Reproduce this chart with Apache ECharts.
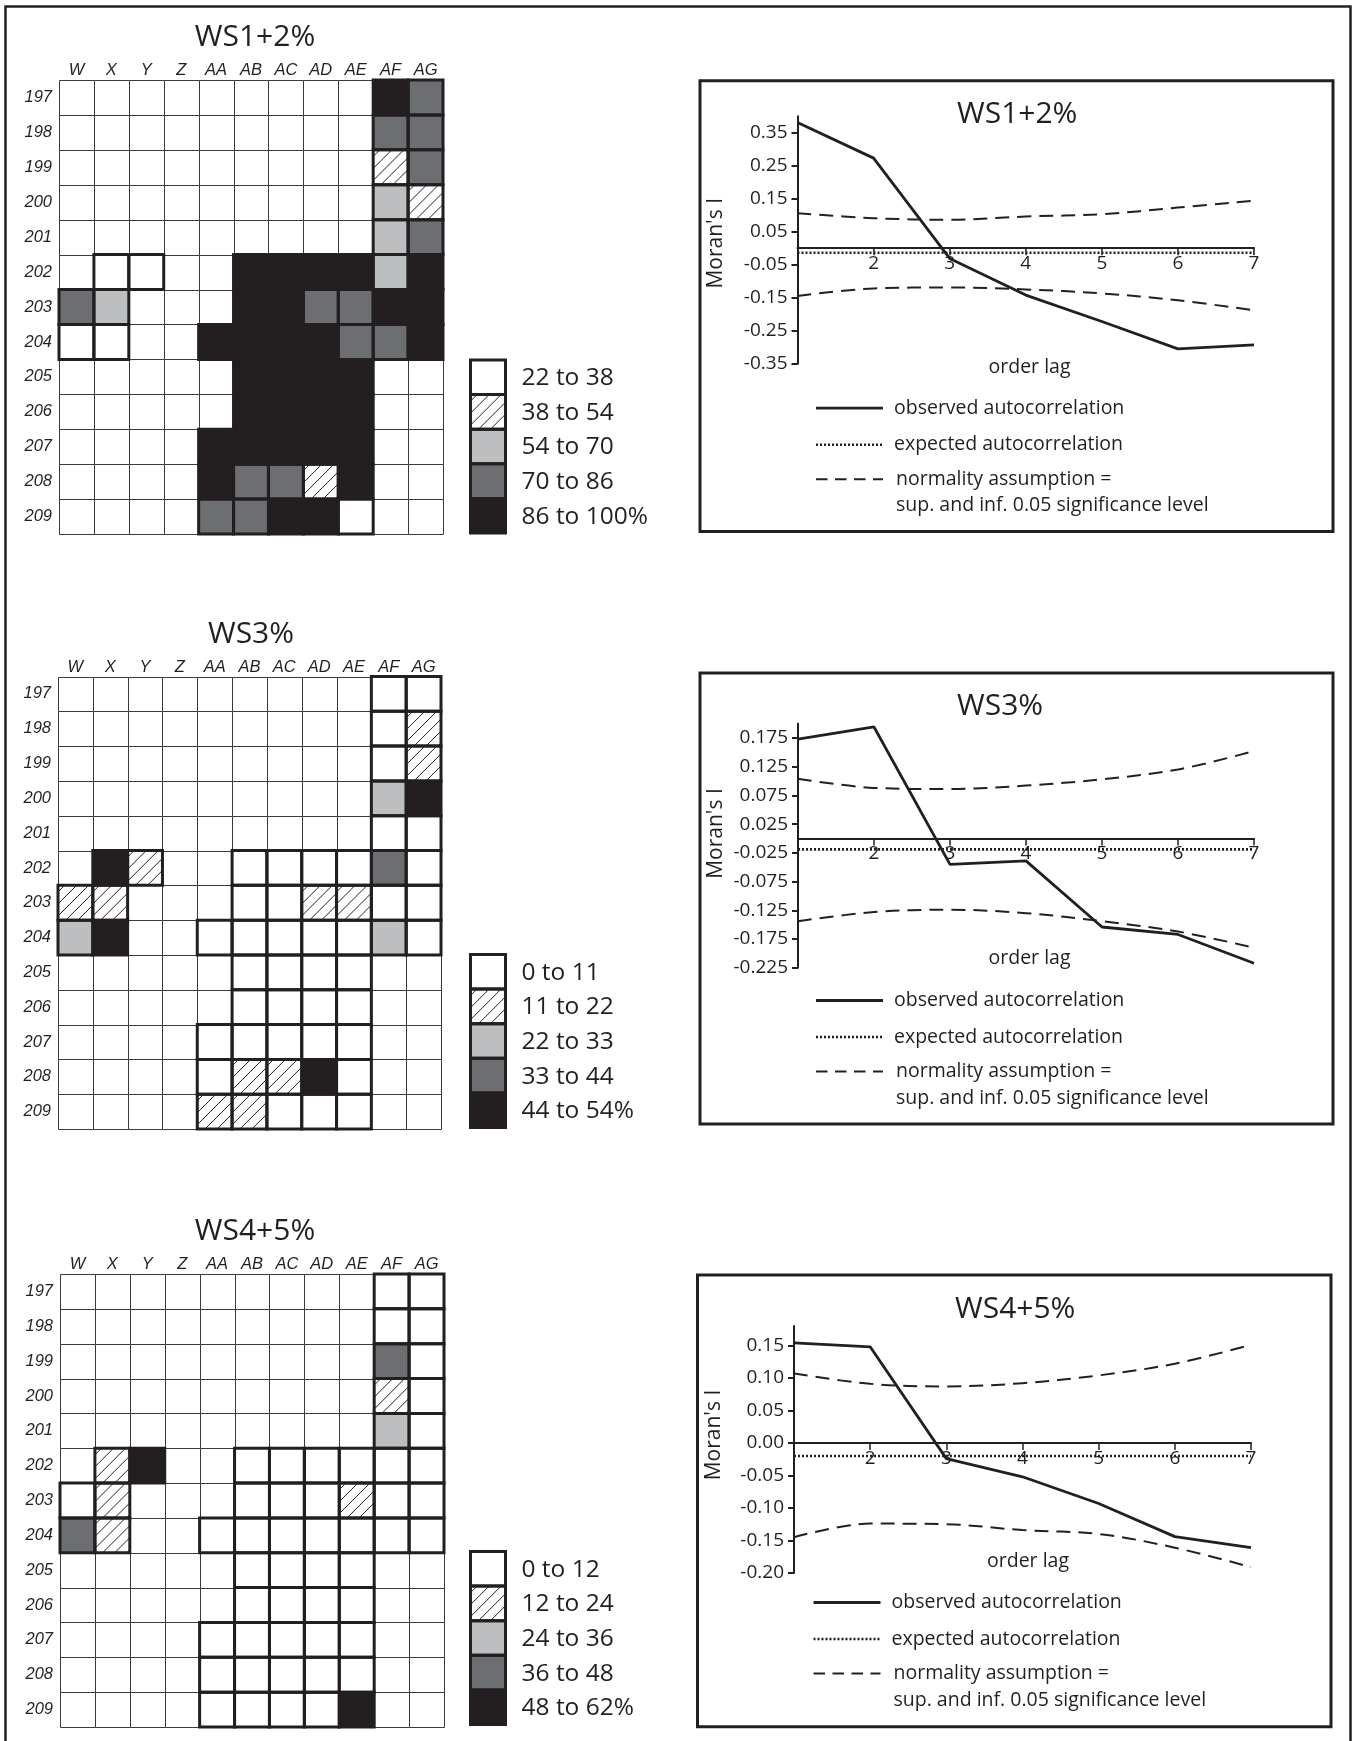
<!DOCTYPE html>
<html>
<head>
<meta charset="utf-8">
<script src="https://cdn.jsdelivr.net/npm/echarts@6/dist/echarts.min.js"></script>
<style>
  html, body { margin: 0; padding: 0; background: #ffffff; }
  #chart { width: 1356px; height: 1741px; }
</style>
</head>
<body>
<div id="chart"></div>
<script>
// ---- excavation grid: columns, rows and class per square (N = square not excavated) ----
const squareCols = ['W', 'X', 'Y', 'Z', 'AA', 'AB', 'AC', 'AD', 'AE', 'AF', 'AG'];
const squareRows = ['197', '198', '199', '200', '201', '202', '203', '204', '205', '206', '207', '208', '209'];
const N = null;

// class index: 0 lowest .. 4 highest (1 is the hatched class)
const ws12Classes = [
  [N, N, N, N, N, N, N, N, N, 4, 3],
  [N, N, N, N, N, N, N, N, N, 3, 3],
  [N, N, N, N, N, N, N, N, N, 1, 3],
  [N, N, N, N, N, N, N, N, N, 2, 1],
  [N, N, N, N, N, N, N, N, N, 2, 3],
  [N, 0, 0, N, N, 4, 4, 4, 4, 2, 4],
  [3, 2, N, N, N, 4, 4, 3, 3, 4, 4],
  [0, 0, N, N, 4, 4, 4, 4, 3, 3, 4],
  [N, N, N, N, N, 4, 4, 4, 4, N, N],
  [N, N, N, N, N, 4, 4, 4, 4, N, N],
  [N, N, N, N, 4, 4, 4, 4, 4, N, N],
  [N, N, N, N, 4, 3, 3, 1, 4, N, N],
  [N, N, N, N, 3, 3, 4, 4, 0, N, N]
];
const ws3Classes = [
  [N, N, N, N, N, N, N, N, N, 0, 0],
  [N, N, N, N, N, N, N, N, N, 0, 1],
  [N, N, N, N, N, N, N, N, N, 0, 1],
  [N, N, N, N, N, N, N, N, N, 2, 4],
  [N, N, N, N, N, N, N, N, N, 0, 0],
  [N, 4, 1, N, N, 0, 0, 0, 0, 3, 0],
  [1, 1, N, N, N, 0, 0, 1, 1, 0, 0],
  [2, 4, N, N, 0, 0, 0, 0, 0, 2, 0],
  [N, N, N, N, N, 0, 0, 0, 0, N, N],
  [N, N, N, N, N, 0, 0, 0, 0, N, N],
  [N, N, N, N, 0, 0, 0, 0, 0, N, N],
  [N, N, N, N, 0, 1, 1, 4, 0, N, N],
  [N, N, N, N, 1, 1, 0, 0, 0, N, N]
];
const ws45Classes = [
  [N, N, N, N, N, N, N, N, N, 0, 0],
  [N, N, N, N, N, N, N, N, N, 0, 0],
  [N, N, N, N, N, N, N, N, N, 3, 0],
  [N, N, N, N, N, N, N, N, N, 1, 0],
  [N, N, N, N, N, N, N, N, N, 2, 0],
  [N, 1, 4, N, N, 0, 0, 0, 0, 0, 0],
  [0, 1, N, N, N, 0, 0, 0, 1, 0, 0],
  [3, 1, N, N, 0, 0, 0, 0, 0, 0, 0],
  [N, N, N, N, N, 0, 0, 0, 0, N, N],
  [N, N, N, N, N, 0, 0, 0, 0, N, N],
  [N, N, N, N, 0, 0, 0, 0, 0, N, N],
  [N, N, N, N, 0, 0, 0, 0, 0, N, N],
  [N, N, N, N, 0, 0, 0, 0, 4, N, N]
];

const ws12Legend = ['22 to 38', '38 to 54', '54 to 70', '70 to 86', '86 to 100%'];
const ws3Legend = ['0 to 11', '11 to 22', '22 to 33', '33 to 44', '44 to 54%'];
const ws45Legend = ['0 to 12', '12 to 24', '24 to 36', '36 to 48', '48 to 62%'];

// ---- correlograms (Moran's I by order lag) ----
const lags = [1, 2, 3, 4, 5, 6, 7];
const lagTickLabels = ['2', '3', '4', '5', '6', '7'];

const ws12Observed = [0.381, 0.273, -0.031, -0.142, -0.222, -0.305, -0.293];
const ws12Expected = [-0.014, -0.014, -0.014, -0.014, -0.014, -0.014, -0.014];
const ws12Upper = [0.106, 0.091, 0.086, 0.096, 0.103, 0.123, 0.144];
const ws12Lower = [-0.145, -0.122, -0.119, -0.125, -0.137, -0.158, -0.188];
const ws12YTicks = ['0.35', '0.25', '0.15', '0.05', '-0.05', '-0.15', '-0.25', '-0.35'];

const ws3Observed = [0.173, 0.194, -0.045, -0.039, -0.154, -0.167, -0.217];
const ws3Expected = [-0.019, -0.019, -0.019, -0.019, -0.019, -0.019, -0.019];
const ws3Upper = [0.104, 0.088, 0.086, 0.092, 0.103, 0.120, 0.152];
const ws3Lower = [-0.144, -0.128, -0.124, -0.130, -0.144, -0.162, -0.190];
const ws3YTicks = ['0.175', '0.125', '0.075', '0.025', '-0.025', '-0.075', '-0.125', '-0.175', '-0.225'];

const ws45Observed = [0.154, 0.148, -0.024, -0.052, -0.093, -0.144, -0.161];
const ws45Expected = [-0.020, -0.020, -0.020, -0.020, -0.020, -0.020, -0.020];
const ws45Upper = [0.107, 0.091, 0.087, 0.092, 0.104, 0.122, 0.151];
const ws45Lower = [-0.145, -0.124, -0.125, -0.134, -0.140, -0.161, -0.191];
const ws45YTicks = ['0.15', '0.10', '0.05', '0.00', '-0.05', '-0.10', '-0.15', '-0.20'];

const legendTexts = ['observed autocorrelation', 'expected autocorrelation',
  'normality assumption =', 'sup. and inf. 0.05 significance level'];

const panels = [
  { name: 'WS1+2%', classes: ws12Classes, key: ws12Legend, observed: ws12Observed, expected: ws12Expected,
    upper: ws12Upper, lower: ws12Lower, yTicks: ws12YTicks, yMin: -0.35, yMax: 0.4 },
  { name: 'WS3%', classes: ws3Classes, key: ws3Legend, observed: ws3Observed, expected: ws3Expected,
    upper: ws3Upper, lower: ws3Lower, yTicks: ws3YTicks, yMin: -0.225, yMax: 0.2 },
  { name: 'WS4+5%', classes: ws45Classes, key: ws45Legend, observed: ws45Observed, expected: ws45Expected,
    upper: ws45Upper, lower: ws45Lower, yTicks: ws45YTicks, yMin: -0.2, yMax: 0.18 }
];

// ---- page layout (pixels) ----
const layout = [
  { title: [255, 37], map: { left: 59, top: 80, width: 384, height: 454 }, key: [470.5, 360],
    box: { x: 700, y: 80.7, w: 633, h: 450.8 }, plot: { left: 797.5, top: 116.2, width: 456.5, height: 247.5 },
    chartTitle: [957, 114.4], yName: [716, 243.3], xName: [1029.5, 367.6] },
  { title: [251, 634], map: { left: 58, top: 676.5, width: 383, height: 452.5 }, key: [470.5, 954.5],
    box: { x: 700, y: 673, w: 633, h: 451 }, plot: { left: 798, top: 723.5, width: 456, height: 244.3 },
    chartTitle: [957, 706.3], yName: [716, 833.5], xName: [1029.5, 958.4] },
  { title: [255, 1231], map: { left: 60, top: 1274, width: 384, height: 453 }, key: [470.5, 1551.5],
    box: { x: 697.5, y: 1275, w: 633.5, h: 451.7 }, plot: { left: 794, top: 1326, width: 457, height: 247 },
    chartTitle: [955, 1309.4], yName: [714, 1435], xName: [1028, 1561.5] }
];

const INK = '#231f20';
const classFills = ['#ffffff', '#ffffff', '#bcbec0', '#6d6e71', '#231f20'];
const HATCHED = 1;
const HATCH_STEP = 12;
const SANS = '"Open Sans", "Noto Sans", sans-serif';
const ITEM_FAMILY = '"Liberation Sans", Arial, sans-serif';
const KEY_W = 35, KEY_H = 34.6;

// diagonal "/" hatching clipped to a rectangle
function hatchSegments(r, step) {
  const out = [];
  const x0 = r.x, x1 = r.x + r.width, y0 = r.y, y1 = r.y + r.height;
  for (let c = x0 + y0 + step * 0.55; c < x1 + y1; c += step) {
    const xa = Math.max(x0, c - y1);
    const xb = Math.min(x1, c - y0);
    if (xb - xa < 0.8) continue;
    out.push([xa, c - xa, xb, c - xb]);
  }
  return out;
}
function hatchLines(r) {
  return hatchSegments(r, HATCH_STEP).map(s => ({
    type: 'line', silent: true,
    shape: { x1: s[0], y1: s[1], x2: s[2], y2: s[3] },
    style: { stroke: INK, lineWidth: 1 }
  }));
}

function cellRect(api) {
  const c = api.coord([api.value(0), api.value(1)]);
  const s = api.size([1, 1]);
  return { x: c[0] - s[0] / 2, y: c[1] - s[1] / 2, width: s[0], height: s[1] };
}
function renderGridCell(params, api) {
  const r = cellRect(api);
  const x0 = Math.round(r.x) + 0.5, y0 = Math.round(r.y) + 0.5;
  const x1 = Math.round(r.x + r.width) + 0.5, y1 = Math.round(r.y + r.height) + 0.5;
  return { type: 'rect', shape: { x: x0, y: y0, width: x1 - x0, height: y1 - y0 },
    style: { fill: '#ffffff', stroke: '#3a3a3c', lineWidth: 1 } };
}
function renderCellFill(params, api) {
  const r = cellRect(api);
  const cls = api.value(2);
  const children = [{ type: 'rect', shape: r, style: { fill: classFills[cls] } }];
  if (cls === HATCHED) children.push(...hatchLines(r));
  return { type: 'group', children };
}
function renderCellOutline(params, api) {
  const r = cellRect(api);
  return { type: 'rect', shape: r, style: { fill: 'none', stroke: INK, lineWidth: 3 } };
}

function surveyedCells(classes) {
  const out = [];
  classes.forEach((row, r) => row.forEach((cls, c) => { if (cls !== null) out.push([c, r, cls]); }));
  return out;
}
const allCells = [];
squareRows.forEach((row, r) => squareCols.forEach((col, c) => allCells.push([c, r])));

function text(str, x, y, font, align, extra) {
  return Object.assign({
    type: 'text', x: x, y: y, silent: true,
    style: { text: str, font: font, fill: INK, textFill: INK,
      align: align, textAlign: align, verticalAlign: 'middle', textVerticalAlign: 'middle' }
  }, extra || {});
}

const grids = [], xAxes = [], yAxes = [], series = [];
const graphics = [];

// outer frame (runs off the bottom of the page)
graphics.push({ type: 'rect', silent: true, shape: { x: 5.5, y: 6.5, width: 1345, height: 1800 },
  style: { fill: 'none', stroke: INK, lineWidth: 2.5 } });

panels.forEach((p, i) => {
  const L = layout[i];

  // ---------- excavation map ----------
  const m = grids.length;
  grids.push({ left: L.map.left, top: L.map.top, width: L.map.width, height: L.map.height,
    containLabel: false, outerBoundsMode: 'none' });
  xAxes.push({ type: 'category', gridIndex: m, data: squareCols, position: 'top',
    axisLine: { show: false }, axisTick: { show: false }, splitLine: { show: false },
    axisLabel: { interval: 0, margin: 1, color: INK, fontFamily: ITEM_FAMILY,
      fontStyle: 'italic', fontSize: 16.5 } });
  yAxes.push({ type: 'category', gridIndex: m, data: squareRows, inverse: true,
    axisLine: { show: false }, axisTick: { show: false }, splitLine: { show: false },
    axisLabel: { interval: 0, margin: 7, padding: [7, 0, 0, 0], color: INK,
      fontFamily: ITEM_FAMILY, fontStyle: 'italic', fontSize: 16.5 } });

  const cells = surveyedCells(p.classes);
  series.push({ type: 'custom', name: p.name + ' grid', xAxisIndex: m, yAxisIndex: m,
    data: allCells, renderItem: renderGridCell, z: 1, silent: true });
  series.push({ type: 'custom', name: p.name + ' squares', xAxisIndex: m, yAxisIndex: m,
    data: cells, renderItem: renderCellFill, z: 2, silent: true });
  series.push({ type: 'custom', name: p.name + ' outlines', xAxisIndex: m, yAxisIndex: m,
    data: cells, renderItem: renderCellOutline, z: 3, silent: true });

  graphics.push(text(p.name, L.title[0], L.title[1], '30px ' + SANS, 'center'));

  // class key
  const kx = L.key[0], ky = L.key[1];
  p.key.forEach((lab, k) => {
    const r = { x: kx, y: ky + k * KEY_H, width: KEY_W, height: KEY_H };
    graphics.push({ type: 'rect', silent: true, shape: r, style: { fill: classFills[k] } });
    if (k === HATCHED) graphics.push(...hatchLines(r));
    graphics.push(text(lab, kx + 51, r.y + KEY_H / 2 + 1, '24.5px ' + SANS, 'left'));
  });
  p.key.forEach((lab, k) => {
    graphics.push({ type: 'rect', silent: true,
      shape: { x: kx, y: ky + k * KEY_H, width: KEY_W, height: KEY_H },
      style: { fill: 'none', stroke: INK, lineWidth: 3 } });
  });

  // ---------- correlogram ----------
  const g = grids.length;
  const yVals = p.yTicks.map(Number);
  const lagVals = lagTickLabels.map(Number);
  grids.push({ left: L.plot.left, top: L.plot.top, width: L.plot.width, height: L.plot.height,
    containLabel: false, outerBoundsMode: 'none' });
  // the lag axis sits on the zero line of Moran's I
  const zeroOffset = p.yMin * L.plot.height / (p.yMax - p.yMin);
  xAxes.push({ type: 'value', gridIndex: g, min: 1, max: 7, position: 'bottom', offset: zeroOffset,
    axisLine: { show: true, onZero: false, lineStyle: { color: INK, width: 2 } },
    axisTick: { show: true, length: 7, customValues: lagVals, lineStyle: { color: INK, width: 1.5 } },
    axisLabel: { show: true, customValues: lagVals, margin: 6, color: INK, fontFamily: SANS, fontSize: 19,
      formatter: v => lagTickLabels[lagVals.indexOf(v)] },
    splitLine: { show: false } });
  yAxes.push({ type: 'value', gridIndex: g, min: p.yMin, max: p.yMax,
    axisLine: { show: true, onZero: false, lineStyle: { color: INK, width: 2 } },
    axisTick: { show: true, length: 6, customValues: yVals, lineStyle: { color: INK, width: 2 } },
    axisLabel: { show: true, customValues: yVals, margin: 10, color: INK, fontFamily: SANS, fontSize: 19,
      formatter: v => p.yTicks[yVals.findIndex(t => Math.abs(t - v) < 1e-9)] },
    splitLine: { show: false } });

  const pairs = arr => lags.map((l, k) => [l, arr[k]]);
  const base = { type: 'line', xAxisIndex: g, yAxisIndex: g, symbol: 'none', silent: true };
  series.push(Object.assign({}, base, { name: 'upper', data: pairs(p.upper), smooth: 0.35, z: 3,
    lineStyle: { color: INK, width: 2, type: [14, 8] } }));
  series.push(Object.assign({}, base, { name: 'lower', data: pairs(p.lower), smooth: 0.35, z: 3,
    lineStyle: { color: INK, width: 2, type: [14, 8] } }));
  series.push(Object.assign({}, base, { name: 'expected', data: pairs(p.expected), z: 4,
    lineStyle: { color: INK, width: 2.6, type: [2, 2] } }));
  series.push(Object.assign({}, base, { name: 'observed', data: pairs(p.observed), z: 5,
    lineStyle: { color: INK, width: 2.8 } }));

  const B = L.box;
  graphics.push({ type: 'rect', silent: true, shape: { x: B.x, y: B.y, width: B.w, height: B.h },
    style: { fill: 'none', stroke: INK, lineWidth: 3 } });
  graphics.push(text(p.name, L.chartTitle[0], L.chartTitle[1], '30px ' + SANS, 'left'));
  graphics.push(text("Moran's I", L.yName[0], L.yName[1], '21px ' + SANS, 'center', { rotation: Math.PI / 2 }));
  graphics.push(text('order lag', L.xName[0], L.xName[1], '19.5px ' + SANS, 'center'));

  // line key
  const lx0 = B.x + 116, lx1 = B.x + 183;
  const rowsY = [B.y + 327.5, B.y + 364, B.y + 398.5, B.y + 425];
  const keyStyles = [
    { lineWidth: 2.8 },
    { lineWidth: 2.6, lineDash: [2, 2] },
    { lineWidth: 2, lineDash: [11.5, 7.5] }
  ];
  keyStyles.forEach((st, k) => {
    graphics.push({ type: 'line', silent: true, shape: { x1: lx0, y1: rowsY[k], x2: lx1, y2: rowsY[k] },
      style: Object.assign({ stroke: INK }, st) });
  });
  legendTexts.forEach((t, k) => {
    graphics.push(text(t, B.x + (k < 2 ? 194 : 196), rowsY[k], '19.5px ' + SANS, 'left'));
  });
});

const chart = echarts.init(document.getElementById('chart'), null, { renderer: 'canvas' });
chart.setOption({
  backgroundColor: '#ffffff',
  animation: false,
  grid: grids,
  xAxis: xAxes,
  yAxis: yAxes,
  series: series,
  graphic: { elements: graphics }
});
</script>
</body>
</html>
